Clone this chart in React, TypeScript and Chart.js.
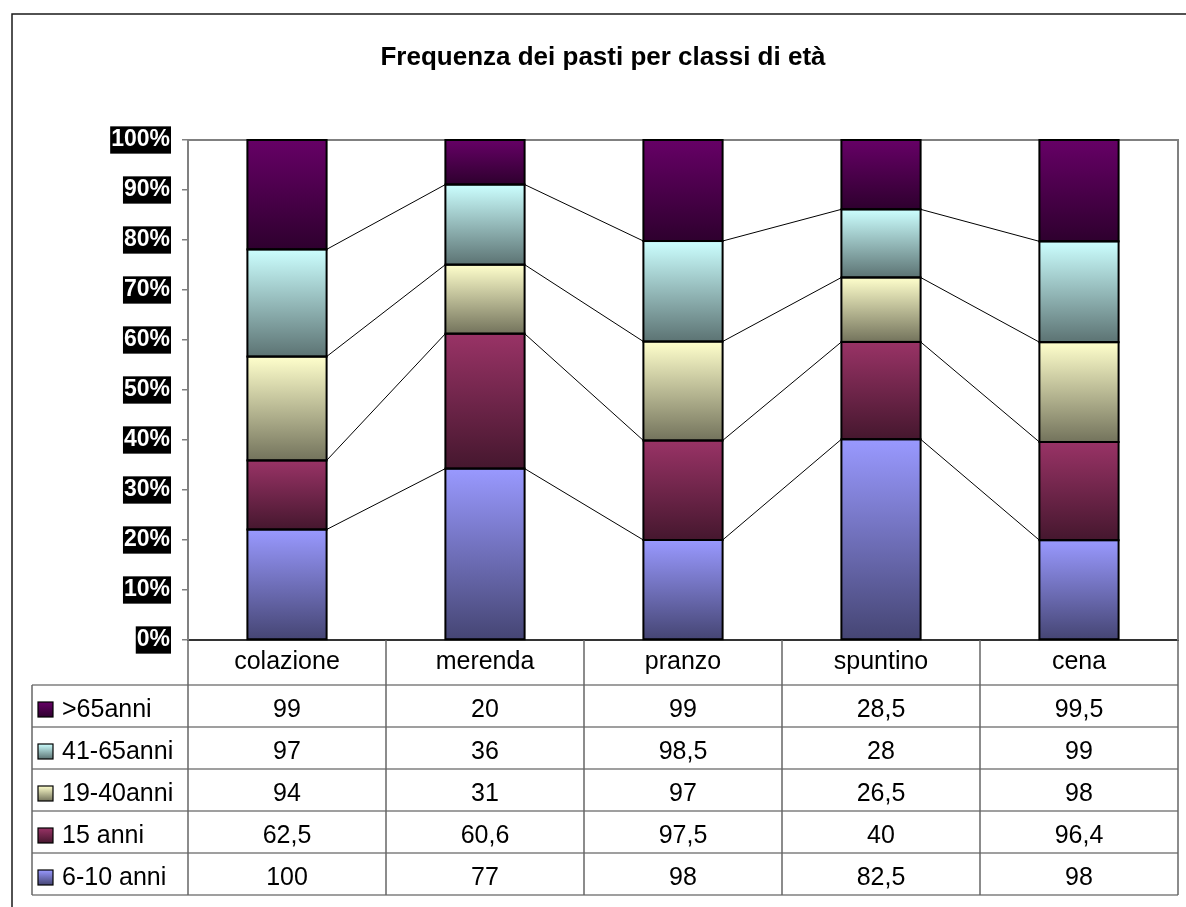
import React, { useEffect, useRef } from 'react';
import { Chart, registerables } from 'chart.js';

Chart.register(...registerables);

const TITLE = 'Frequenza dei pasti per classi di età';
const categories = ['colazione', 'merenda', 'pranzo', 'spuntino', 'cena'];
const seriesNames = ['6-10 anni', '15 anni', '19-40anni', '41-65anni', '>65anni'];
const values6_10 = [100, 77, 98, 82.5, 98];
const values15 = [62.5, 60.6, 97.5, 40, 96.4];
const values19_40 = [94, 31, 97, 26.5, 98];
const values41_65 = [97, 36, 98.5, 28, 99];
const values65 = [99, 20, 99, 28.5, 99.5];
const yTickStep = 10;
const yMax = 100;

const seriesValues = [values6_10, values15, values19_40, values41_65, values65];
const topColors = ['#9999FF', '#993366', '#FFFFCC', '#CCFFFF', '#660066'];
const bottomColors = ['#454573', '#45172E', '#73735C', '#5C7373', '#2E002E'];

const FONT = '"Liberation Sans", Arial, Helvetica, sans-serif';

const totals = categories.map((_, i) => seriesValues.reduce((s, arr) => s + arr[i], 0));
const percentSeries = seriesValues.map((arr) => arr.map((v, i) => (v / totals[i]) * 100));
const fmt = (v: number) => String(v).replace('.', ',');

function segmentGradient(ctx: any) {
  const chart = ctx.chart;
  const ds = ctx.datasetIndex;
  const i = ctx.dataIndex;
  const y = chart.scales && chart.scales.y;
  if (!chart.chartArea || !y || i === undefined || ds === undefined) return topColors[ds || 0];
  let start = 0;
  for (let k = 0; k < ds; k++) start += percentSeries[k][i];
  const end = start + percentSeries[ds][i];
  const yTop = y.getPixelForValue(end);
  const yBot = y.getPixelForValue(start);
  if (!isFinite(yTop) || !isFinite(yBot) || yTop === yBot) return topColors[ds];
  const g = chart.ctx.createLinearGradient(0, yTop, 0, yBot);
  g.addColorStop(0, topColors[ds]);
  g.addColorStop(1, bottomColors[ds]);
  return g;
}

const framePlugin = {
  id: 'framePlugin',
  beforeDraw(chart: any) {
    const c = chart.ctx;
    c.save();
    c.fillStyle = '#ffffff';
    c.fillRect(0, 0, chart.width, chart.height);
    c.strokeStyle = '#1a1a1a';
    c.lineWidth = 1.5;
    c.beginPath();
    c.moveTo(12, chart.height);
    c.lineTo(12, 14);
    c.lineTo(chart.width, 14);
    c.stroke();
    c.fillStyle = '#000000';
    c.font = `bold 26px ${FONT}`;
    c.textAlign = 'center';
    c.textBaseline = 'alphabetic';
    c.fillText(TITLE, 603, 65);
    c.restore();
  },
  beforeDatasetsDraw(chart: any) {
    const c = chart.ctx;
    const a = chart.chartArea;
    c.save();
    c.strokeStyle = '#808080';
    c.lineWidth = 2;
    c.beginPath();
    c.moveTo(a.left, a.top);
    c.lineTo(a.right, a.top);
    c.lineTo(a.right, a.bottom);
    c.stroke();
    c.restore();
  },
  afterDatasetsDraw(chart: any) {
    const c = chart.ctx;
    c.save();
    c.strokeStyle = '#000000';
    c.lineWidth = 1;
    for (let ds = 0; ds < seriesNames.length - 1; ds++) {
      const meta = chart.getDatasetMeta(ds);
      for (let i = 0; i < categories.length - 1; i++) {
        const pa = meta.data[i].getProps(['x', 'y', 'width'], true);
        const pb = meta.data[i + 1].getProps(['x', 'y', 'width'], true);
        c.beginPath();
        c.moveTo(pa.x + pa.width / 2, pa.y);
        c.lineTo(pb.x - pb.width / 2, pb.y);
        c.stroke();
      }
    }
    c.lineWidth = 2;
    for (let ds = 0; ds < seriesNames.length; ds++) {
      const meta = chart.getDatasetMeta(ds);
      meta.data.forEach((el: any) => {
        const p = el.getProps(['x', 'y', 'base', 'width'], true);
        const left = p.x - p.width / 2;
        const top = Math.min(p.y, p.base);
        const h = Math.abs(p.base - p.y);
        c.strokeRect(left, top, p.width, h);
      });
    }
    c.restore();
  },
  afterDraw(chart: any) {
    const c = chart.ctx;
    const a = chart.chartArea;
    const xs = chart.scales.x;
    const headerBottom = a.bottom + 45;
    const rowH = 42;
    const tableLeft = 32;
    const tableBottom = headerBottom + rowH * seriesNames.length;
    c.save();
    c.strokeStyle = '#404040';
    c.lineWidth = 1.2;
    for (let r = 0; r <= seriesNames.length; r++) {
      const yy = headerBottom + r * rowH;
      c.beginPath();
      c.moveTo(tableLeft, yy);
      c.lineTo(a.right, yy);
      c.stroke();
    }
    c.strokeStyle = '#666666';
    c.lineWidth = 1.5;
    c.beginPath();
    c.moveTo(tableLeft, headerBottom);
    c.lineTo(tableLeft, tableBottom);
    c.stroke();
    const bounds: number[] = [a.left];
    for (let i = 0; i < categories.length - 1; i++) {
      bounds.push((xs.getPixelForValue(i) + xs.getPixelForValue(i + 1)) / 2);
    }
    bounds.push(a.right);
    bounds.forEach((bx) => {
      c.beginPath();
      c.moveTo(bx, a.bottom);
      c.lineTo(bx, tableBottom);
      c.stroke();
    });
    c.font = `25px ${FONT}`;
    c.textBaseline = 'alphabetic';
    for (let r = 0; r < seriesNames.length; r++) {
      const ds = seriesNames.length - 1 - r;
      const rowTop = headerBottom + r * rowH;
      const kx = 38;
      const ky = rowTop + 17;
      const g = c.createLinearGradient(0, ky, 0, ky + 15);
      g.addColorStop(0, topColors[ds]);
      g.addColorStop(1, bottomColors[ds]);
      c.fillStyle = g;
      c.fillRect(kx, ky, 15, 15);
      c.strokeStyle = '#000000';
      c.lineWidth = 1.2;
      c.strokeRect(kx, ky, 15, 15);
      c.fillStyle = '#000000';
      c.textAlign = 'left';
      c.fillText(seriesNames[ds], 62, rowTop + 32);
      c.textAlign = 'center';
      for (let i = 0; i < categories.length; i++) {
        c.fillText(fmt(seriesValues[ds][i]), xs.getPixelForValue(i), rowTop + 32);
      }
    }
    c.restore();
  },
};

export default function App() {
  const ref = useRef<HTMLCanvasElement | null>(null);
  useEffect(() => {
    if (!ref.current) return;
    const chart = new Chart(ref.current, {
      type: 'bar',
      data: {
        labels: categories,
        datasets: seriesNames.map((name, ds) => ({
          label: name,
          data: percentSeries[ds],
          backgroundColor: segmentGradient,
          borderWidth: 0,
          barPercentage: 0.4,
          categoryPercentage: 1,
        })),
      },
      options: {
        animation: false,
        responsive: false,
        events: [],
        layout: { padding: { left: 30, right: 8, top: 140, bottom: 12 } },
        plugins: {
          legend: { display: false },
          tooltip: { enabled: false },
          title: { display: false },
        },
        scales: {
          x: {
            stacked: true,
            grid: { display: false, drawTicks: false },
            border: { display: true, color: '#333333', width: 2 },
            ticks: {
              color: '#000000',
              font: { family: FONT, size: 25 },
              padding: 7,
              maxRotation: 0,
              autoSkip: false,
            },
            afterFit: (scale: any) => {
              scale.height = 255;
            },
          },
          y: {
            stacked: true,
            min: 0,
            max: yMax,
            grid: {
              display: true,
              drawOnChartArea: false,
              drawTicks: true,
              tickLength: 6,
              color: '#808080',
              lineWidth: 1.5,
            },
            border: { display: true, color: '#808080', width: 2 },
            ticks: {
              stepSize: yTickStep,
              autoSkip: false,
              color: '#ffffff',
              font: { family: FONT, size: 23, weight: 'bold', lineHeight: 1.1 },
              padding: 12,
              showLabelBackdrop: true,
              backdropColor: '#000000',
              backdropPadding: { left: 1, right: 1, top: 1, bottom: 1 },
              callback: (v: any) => `${v}%`,
            },
            afterFit: (scale: any) => {
              scale.width = 158;
            },
          },
        },
      },
      plugins: [framePlugin],
    } as any);
    return () => chart.destroy();
  }, []);
  return (
    <div style={{ position: 'fixed', left: 0, top: 0, width: 1186, height: 907, background: '#fff' }}>
      <canvas ref={ref} width={1186} height={907} style={{ display: 'block', width: 1186, height: 907 }} />
    </div>
  );
}
